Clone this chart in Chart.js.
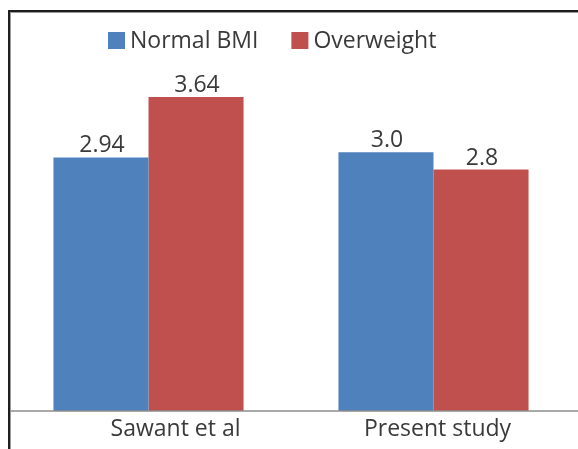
<!DOCTYPE html>
<html>
<head>
<meta charset="utf-8">
<script src="https://cdn.jsdelivr.net/npm/chart.js@4/dist/chart.umd.min.js"></script>
<style>
    body { margin: 0; background: #fff; }
    #wrap { position: relative; width: 578px; height: 449px; overflow: hidden; }
    #frame {
        position: absolute; left: 8px; top: 10px; width: 600px; height: 480px;
        border-left: 2px solid #1e1e1e; border-top: 2px solid #1e1e1e;
        box-shadow: inset 1px 1px 0 #9a9a9a;
    }
    canvas { position: absolute; left: 0; top: 0; }
</style>
</head>
<body>
<div id="wrap">
    <div id="frame"></div>
    <canvas id="bmiChart" width="578" height="449"></canvas>
</div>
<script>
const categories = ['Sawant et al', 'Present study'];
const normalBmi = [2.94, 3.0];
const overweight = [3.64, 2.8];
const valueLabels = [['2.94', '3.0'], ['3.64', '2.8']];

const FONT = '"Open Sans", sans-serif';
const TEXT = '#3a3a3a';

// value labels above each bar
const barLabels = {
    id: 'barLabels',
    afterDatasetsDraw(chart) {
        const ctx = chart.ctx;
        ctx.save();
        ctx.font = '23px ' + FONT;
        ctx.fillStyle = TEXT;
        ctx.textAlign = 'center';
        ctx.textBaseline = 'alphabetic';
        chart.data.datasets.forEach((ds, i) => {
            chart.getDatasetMeta(i).data.forEach((bar, j) => {
                ctx.fillText(valueLabels[i][j], bar.x + 1, bar.y - 5);
            });
        });
        ctx.restore();
    }
};

// baseline axis line and legend at the top
const decorations = {
    id: 'decorations',
    afterDraw(chart) {
        const ctx = chart.ctx;
        const y0 = chart.scales.y.getPixelForValue(0);
        ctx.save();
        ctx.strokeStyle = '#8c8c8c';
        ctx.lineWidth = 1.5;
        ctx.beginPath();
        ctx.moveTo(10, y0);
        ctx.lineTo(578, y0);
        ctx.stroke();

        ctx.font = '23px ' + FONT;
        ctx.textBaseline = 'middle';
        let x = 108;
        const cy = 41;
        chart.data.datasets.forEach((ds) => {
            ctx.fillStyle = ds.backgroundColor;
            ctx.fillRect(x, cy - 9, 17, 17);
            x += 22;
            ctx.fillStyle = TEXT;
            ctx.fillText(ds.label, x, cy);
            x += ctx.measureText(ds.label).width + 33;
        });
        ctx.restore();
    }
};

new Chart(document.getElementById('bmiChart').getContext('2d'), {
    type: 'bar',
    data: {
        labels: categories,
        datasets: [{
            label: 'Normal BMI',
            data: normalBmi,
            backgroundColor: '#4f81bd'
        }, {
            label: 'Overweight',
            data: overweight,
            backgroundColor: '#c0504d'
        }]
    },
    options: {
        responsive: false,
        animation: false,
        layout: { padding: { top: 66, left: 6, right: 2, bottom: 0 } },
        categoryPercentage: 0.667,
        barPercentage: 1.0,
        plugins: {
            legend: { display: false },
            tooltip: { enabled: false }
        },
        scales: {
            x: {
                grid: { display: false, drawTicks: false },
                border: { display: false },
                ticks: {
                    color: TEXT,
                    font: { family: FONT, size: 23 },
                    padding: 5,
                    labelOffset: 4,
                    // first label sits right of its bars in the original
                    callback: function(value, index) {
                        const label = this.getLabelForValue(value);
                        return index === 0 ? '\u2003\u2003' + label : label;
                    }
                },
                afterFit(scale) { scale.height = 38; }
            },
            y: {
                display: false,
                min: 0,
                max: 4
            }
        }
    },
    plugins: [barLabels, decorations]
});
</script>
</body>
</html>
